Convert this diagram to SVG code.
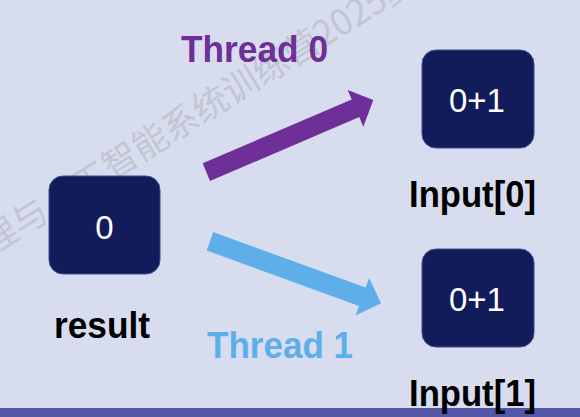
<svg xmlns="http://www.w3.org/2000/svg" width="580" height="417" viewBox="0 0 580 417">
  <style>
    .node { fill: #131c5b; stroke: #3d4b8c; stroke-width: 1; }
    .val { font-family: "Liberation Sans", Arial, sans-serif; font-size: 33px; fill: #ffffff; text-anchor: middle; }
    .lbl { font-family: "Liberation Sans", Arial, sans-serif; font-weight: bold; font-size: 36px; fill: #000000; }
    .thr { font-family: "Liberation Sans", Arial, sans-serif; font-weight: bold; font-size: 37px; }
    .wm { font-family: "Noto Sans CJK SC", "Noto Sans", sans-serif; font-size: 35.6px; fill: #c2c6d2; }
  </style>
  <rect x="0" y="0" width="580" height="417" fill="#d7ddef"/>
  <text class="wm" transform="translate(-9,256) rotate(-32)">理与人工智能系统训练营2025夏</text>
  <rect x="0" y="408" width="580" height="9" fill="#5457a8"/>

  <g id="connectors">
    <polygon fill="#6e2f98" points="202.7,163.3 351.7,99.6 347.7,90 373.3,100 363.3,126.7 359.3,117 210,181"/>
    <polygon fill="#5eafe9" points="213.3,232.1 365.6,287.6 369.1,278 381,303.3 355.5,315.6 359,306 206.7,250.5"/>
  </g>

  <g id="label-thread0">
    <text class="thr" x="181" y="62" fill="#6e2f98" textLength="147" lengthAdjust="spacingAndGlyphs">Thread 0</text>
  </g>
  <g id="label-thread1">
    <text class="thr" x="207" y="358" fill="#5eafe9" textLength="146" lengthAdjust="spacingAndGlyphs">Thread 1</text>
  </g>

  <g id="node-result">
    <rect class="node" x="49" y="176" width="111" height="98" rx="14"/>
    <text class="val" x="104.5" y="239">0</text>
    <text class="lbl" x="54" y="338" textLength="96" lengthAdjust="spacingAndGlyphs">result</text>
  </g>

  <g id="node-input0">
    <rect class="node" x="422" y="50" width="112" height="98" rx="14"/>
    <text class="val" x="477" y="112">0+1</text>
    <text class="lbl" x="409" y="207" font-size="34" textLength="127" lengthAdjust="spacingAndGlyphs">Input[0]</text>
  </g>

  <g id="node-input1">
    <rect class="node" x="422" y="249" width="112" height="98" rx="14"/>
    <text class="val" x="477" y="311">0+1</text>
    <text class="lbl" x="409" y="406" font-size="34" textLength="127" lengthAdjust="spacingAndGlyphs">Input[1]</text>
  </g>
</svg>
